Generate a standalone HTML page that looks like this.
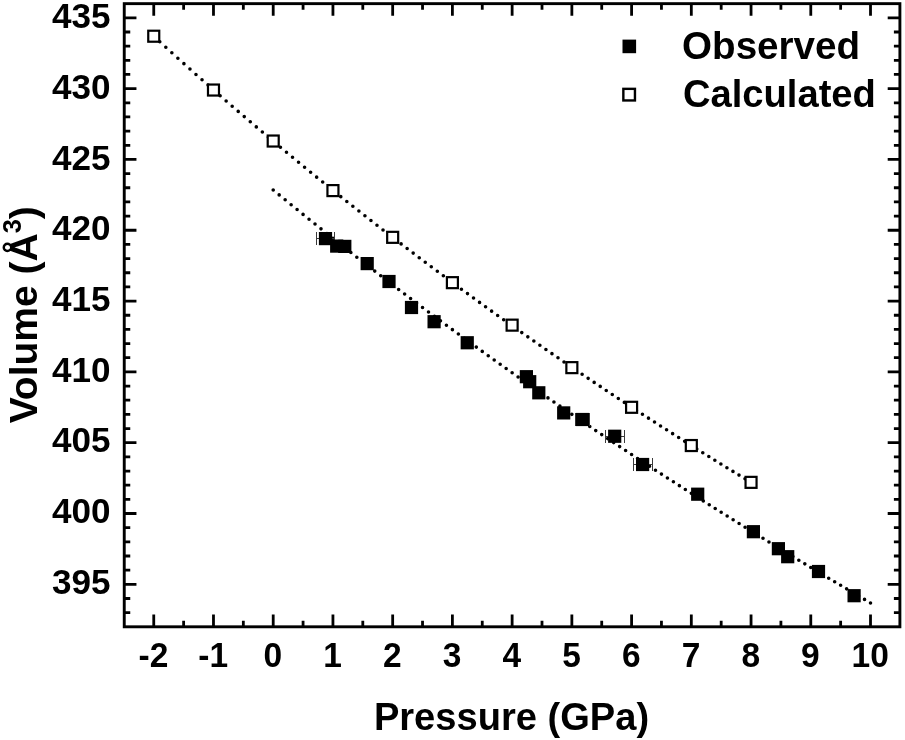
<!DOCTYPE html>
<html lang="en"><head><meta charset="utf-8"><title>Volume vs Pressure</title>
<style>
html,body{margin:0;padding:0;background:#fff;}
body{width:905px;height:740px;overflow:hidden;}
svg{display:block;}
text{font-family:"Liberation Sans",Arial,Helvetica,sans-serif;font-weight:bold;fill:#000;}
.tk{font-size:35.1px;}
.tt{font-size:38.4px;}
</style></head><body>
<svg width="905" height="740" viewBox="0 0 905 740">
<rect width="905" height="740" fill="#fff"/>

<g stroke="#000" stroke-width="2.9" fill="none" stroke-linecap="butt">
<rect x="124.25" y="3.65" width="775.65" height="623.15"/>
<path d="M153.75,626.8 v-12.2 M153.75,3.65 v12.2 M183.62,626.8 v-6.0 M183.62,3.65 v6.0 M213.48,626.8 v-12.2 M213.48,3.65 v12.2 M243.34,626.8 v-6.0 M243.34,3.65 v6.0 M273.21,626.8 v-12.2 M273.21,3.65 v12.2 M303.07,626.8 v-6.0 M303.07,3.65 v6.0 M332.94,626.8 v-12.2 M332.94,3.65 v12.2 M362.80,626.8 v-6.0 M362.80,3.65 v6.0 M392.67,626.8 v-12.2 M392.67,3.65 v12.2 M422.53,626.8 v-6.0 M422.53,3.65 v6.0 M452.40,626.8 v-12.2 M452.40,3.65 v12.2 M482.26,626.8 v-6.0 M482.26,3.65 v6.0 M512.13,626.8 v-12.2 M512.13,3.65 v12.2 M542.00,626.8 v-6.0 M542.00,3.65 v6.0 M571.86,626.8 v-12.2 M571.86,3.65 v12.2 M601.72,626.8 v-6.0 M601.72,3.65 v6.0 M631.59,626.8 v-12.2 M631.59,3.65 v12.2 M661.45,626.8 v-6.0 M661.45,3.65 v6.0 M691.32,626.8 v-12.2 M691.32,3.65 v12.2 M721.18,626.8 v-6.0 M721.18,3.65 v6.0 M751.05,626.8 v-12.2 M751.05,3.65 v12.2 M780.91,626.8 v-6.0 M780.91,3.65 v6.0 M810.78,626.8 v-12.2 M810.78,3.65 v12.2 M840.64,626.8 v-6.0 M840.64,3.65 v6.0 M870.51,626.8 v-12.2 M870.51,3.65 v12.2 M124.25,612.66 h6.0 M899.9,612.66 h-6.0 M124.25,598.50 h6.0 M899.9,598.50 h-6.0 M124.25,584.33 h12.2 M899.9,584.33 h-12.2 M124.25,570.17 h6.0 M899.9,570.17 h-6.0 M124.25,556.01 h6.0 M899.9,556.01 h-6.0 M124.25,541.84 h6.0 M899.9,541.84 h-6.0 M124.25,527.68 h6.0 M899.9,527.68 h-6.0 M124.25,513.52 h12.2 M899.9,513.52 h-12.2 M124.25,499.35 h6.0 M899.9,499.35 h-6.0 M124.25,485.19 h6.0 M899.9,485.19 h-6.0 M124.25,471.03 h6.0 M899.9,471.03 h-6.0 M124.25,456.87 h6.0 M899.9,456.87 h-6.0 M124.25,442.70 h12.2 M899.9,442.70 h-12.2 M124.25,428.54 h6.0 M899.9,428.54 h-6.0 M124.25,414.38 h6.0 M899.9,414.38 h-6.0 M124.25,400.21 h6.0 M899.9,400.21 h-6.0 M124.25,386.05 h6.0 M899.9,386.05 h-6.0 M124.25,371.89 h12.2 M899.9,371.89 h-12.2 M124.25,357.72 h6.0 M899.9,357.72 h-6.0 M124.25,343.56 h6.0 M899.9,343.56 h-6.0 M124.25,329.40 h6.0 M899.9,329.40 h-6.0 M124.25,315.24 h6.0 M899.9,315.24 h-6.0 M124.25,301.07 h12.2 M899.9,301.07 h-12.2 M124.25,286.91 h6.0 M899.9,286.91 h-6.0 M124.25,272.75 h6.0 M899.9,272.75 h-6.0 M124.25,258.58 h6.0 M899.9,258.58 h-6.0 M124.25,244.42 h6.0 M899.9,244.42 h-6.0 M124.25,230.26 h12.2 M899.9,230.26 h-12.2 M124.25,216.09 h6.0 M899.9,216.09 h-6.0 M124.25,201.93 h6.0 M899.9,201.93 h-6.0 M124.25,187.77 h6.0 M899.9,187.77 h-6.0 M124.25,173.61 h6.0 M899.9,173.61 h-6.0 M124.25,159.44 h12.2 M899.9,159.44 h-12.2 M124.25,145.28 h6.0 M899.9,145.28 h-6.0 M124.25,131.12 h6.0 M899.9,131.12 h-6.0 M124.25,116.95 h6.0 M899.9,116.95 h-6.0 M124.25,102.79 h6.0 M899.9,102.79 h-6.0 M124.25,88.63 h12.2 M899.9,88.63 h-12.2 M124.25,74.47 h6.0 M899.9,74.47 h-6.0 M124.25,60.30 h6.0 M899.9,60.30 h-6.0 M124.25,46.14 h6.0 M899.9,46.14 h-6.0 M124.25,31.98 h6.0 M899.9,31.98 h-6.0 M124.25,17.81 h12.2 M899.9,17.81 h-12.2" stroke-width="2.8"/>
</g>
<text class="tk" x="110.6" y="593.8" text-anchor="end">395</text>
<text class="tk" x="110.6" y="523.1" text-anchor="end">400</text>
<text class="tk" x="110.6" y="452.4" text-anchor="end">405</text>
<text class="tk" x="110.6" y="381.7" text-anchor="end">410</text>
<text class="tk" x="110.6" y="311.0" text-anchor="end">415</text>
<text class="tk" x="110.6" y="240.3" text-anchor="end">420</text>
<text class="tk" x="110.6" y="169.5" text-anchor="end">425</text>
<text class="tk" x="110.6" y="98.8" text-anchor="end">430</text>
<text class="tk" x="110.6" y="28.1" text-anchor="end">435</text>
<text class="tk" transform="translate(153.40,667.4) scale(0.955,1)" text-anchor="middle">-2</text>
<text class="tk" transform="translate(213.13,667.4) scale(0.955,1)" text-anchor="middle">-1</text>
<text class="tk" transform="translate(272.86,667.4) scale(0.955,1)" text-anchor="middle">0</text>
<text class="tk" transform="translate(332.59,667.4) scale(0.955,1)" text-anchor="middle">1</text>
<text class="tk" transform="translate(392.32,667.4) scale(0.955,1)" text-anchor="middle">2</text>
<text class="tk" transform="translate(452.05,667.4) scale(0.955,1)" text-anchor="middle">3</text>
<text class="tk" transform="translate(511.78,667.4) scale(0.955,1)" text-anchor="middle">4</text>
<text class="tk" transform="translate(571.51,667.4) scale(0.955,1)" text-anchor="middle">5</text>
<text class="tk" transform="translate(631.24,667.4) scale(0.955,1)" text-anchor="middle">6</text>
<text class="tk" transform="translate(690.97,667.4) scale(0.955,1)" text-anchor="middle">7</text>
<text class="tk" transform="translate(750.70,667.4) scale(0.955,1)" text-anchor="middle">8</text>
<text class="tk" transform="translate(810.43,667.4) scale(0.955,1)" text-anchor="middle">9</text>
<text class="tk" transform="translate(870.16,667.4) scale(0.955,1)" text-anchor="middle">10</text>
<text class="tt" style="font-size:38.1px" transform="translate(511.5,729.7) scale(1,1.035)" text-anchor="middle">Pressure (GPa)</text>
<text class="tt" transform="translate(36.9,423.3) rotate(-90) scale(1.016,1)">Volume (Å<tspan font-size="25px" dy="-15.8">3</tspan><tspan dy="15.8">)</tspan></text>
<g fill="none" stroke="#000" stroke-width="3.6" stroke-linecap="round">
<path d="M153.75,36.30h0 M159.78,41.82h0 M165.82,47.32h0 M171.85,52.79h0 M177.88,58.24h0 M183.92,63.66h0 M189.95,69.06h0 M195.98,74.44h0 M202.02,79.79h0 M208.05,85.12h0 M214.08,90.43h0 M220.12,95.71h0 M226.15,100.97h0 M232.18,106.20h0 M238.22,111.42h0 M244.25,116.61h0 M250.28,121.77h0 M256.32,126.92h0 M262.35,132.04h0 M268.38,137.14h0 M274.42,142.22h0 M280.45,147.28h0 M286.48,152.31h0 M292.52,157.32h0 M298.55,162.31h0 M304.58,167.28h0 M310.62,172.23h0 M316.65,177.15h0 M322.68,182.05h0 M328.72,186.94h0 M334.75,191.80h0 M340.78,196.64h0 M346.82,201.46h0 M352.85,206.26h0 M358.88,211.03h0 M364.92,215.79h0 M370.95,220.53h0 M376.98,225.24h0 M383.02,229.94h0 M389.05,234.62h0 M395.08,239.27h0 M401.12,243.91h0 M407.15,248.52h0 M413.18,253.12h0 M419.22,257.70h0 M425.25,262.25h0 M431.28,266.79h0 M437.32,271.31h0 M443.35,275.81h0 M449.38,280.29h0 M455.42,284.75h0 M461.45,289.19h0 M467.48,293.62h0 M473.52,298.02h0 M479.55,302.41h0 M485.58,306.78h0 M491.62,311.13h0 M497.65,315.46h0 M503.68,319.77h0 M509.72,324.07h0 M515.75,328.35h0 M521.78,332.61h0 M527.82,336.85h0 M533.85,341.07h0 M539.88,345.28h0 M545.92,349.47h0 M551.95,353.64h0 M557.98,357.80h0 M564.02,361.94h0 M570.05,366.06h0 M576.08,370.17h0 M582.12,374.25h0 M588.15,378.33h0 M594.18,382.38h0 M600.22,386.42h0 M606.25,390.45h0 M612.28,394.45h0 M618.32,398.44h0 M624.35,402.42h0 M630.38,406.38h0 M636.42,410.32h0 M642.45,414.25h0 M648.48,418.17h0 M654.52,422.06h0 M660.55,425.95h0 M666.58,429.81h0 M672.62,433.67h0 M678.65,437.50h0 M684.68,441.33h0 M690.72,445.14h0 M696.75,448.93h0 M702.78,452.71h0 M708.82,456.47h0 M714.85,460.23h0 M720.88,463.96h0 M726.92,467.68h0 M732.95,471.39h0 M738.98,475.09h0 M745.02,478.77h0 M751.05,482.44h0"/>
<path d="M273.21,189.97h0 M279.18,194.90h0 M285.16,199.80h0 M291.13,204.69h0 M297.10,209.55h0 M303.07,214.40h0 M309.05,219.23h0 M315.02,224.04h0 M320.99,228.83h0 M326.97,233.60h0 M332.94,238.36h0 M338.91,243.09h0 M344.89,247.81h0 M350.86,252.50h0 M356.83,257.18h0 M362.80,261.84h0 M368.78,266.49h0 M374.75,271.11h0 M380.72,275.72h0 M386.70,280.31h0 M392.67,284.88h0 M398.64,289.43h0 M404.62,293.97h0 M410.59,298.49h0 M416.56,302.99h0 M422.53,307.48h0 M428.51,311.94h0 M434.48,316.39h0 M440.45,320.83h0 M446.43,325.25h0 M452.40,329.65h0 M458.37,334.03h0 M464.35,338.40h0 M470.32,342.75h0 M476.29,347.09h0 M482.26,351.41h0 M488.24,355.71h0 M494.21,360.00h0 M500.18,364.27h0 M506.16,368.53h0 M512.13,372.77h0 M518.10,377.00h0 M524.08,381.21h0 M530.05,385.40h0 M536.02,389.58h0 M542.00,393.75h0 M547.97,397.90h0 M553.94,402.03h0 M559.91,406.15h0 M565.89,410.26h0 M571.86,414.35h0 M577.83,418.43h0 M583.81,422.49h0 M589.78,426.54h0 M595.75,430.58h0 M601.72,434.60h0 M607.70,438.61h0 M613.67,442.60h0 M619.64,446.58h0 M625.62,450.55h0 M631.59,454.50h0 M637.56,458.44h0 M643.54,462.37h0 M649.51,466.29h0 M655.48,470.19h0 M661.45,474.08h0 M667.43,477.95h0 M673.40,481.81h0 M679.37,485.67h0 M685.35,489.50h0 M691.32,493.33h0 M697.29,497.14h0 M703.27,500.95h0 M709.24,504.74h0 M715.21,508.51h0 M721.18,512.28h0 M727.16,516.03h0 M733.13,519.78h0 M739.10,523.51h0 M745.08,527.23h0 M751.05,530.94h0 M757.02,534.64h0 M763.00,538.32h0 M768.97,542.00h0 M774.94,545.66h0 M780.91,549.32h0 M786.89,552.96h0 M792.86,556.60h0 M798.83,560.22h0 M804.81,563.83h0 M810.78,567.44h0 M816.75,571.03h0 M822.73,574.61h0 M828.70,578.19h0 M834.67,581.75h0 M840.64,585.30h0 M846.62,588.85h0 M852.59,592.38h0 M858.56,595.91h0 M864.54,599.42h0 M870.51,602.93h0"/>
</g>
<g stroke="#3a3a3a" stroke-width="1" fill="none">
<path d="M316.5,238.5 H334.5 M316.5,232.0 v13 M334.5,232.0 v13"/>
<path d="M575.5,419.5 H589.5 M575.5,413.0 v13 M589.5,413.0 v13"/>
<path d="M605.5,436.5 H624.5 M605.5,430.0 v13 M624.5,430.0 v13"/>
<path d="M633.5,464.5 H652.5 M633.5,458.0 v13 M652.5,458.0 v13"/>
</g>
<g fill="#000">
<rect x="318.90" y="232.00" width="13.2" height="13.2"/>
<rect x="330.10" y="239.50" width="13.2" height="13.2"/>
<rect x="338.20" y="239.80" width="13.2" height="13.2"/>
<rect x="360.60" y="257.00" width="13.2" height="13.2"/>
<rect x="382.40" y="274.90" width="13.2" height="13.2"/>
<rect x="404.90" y="300.90" width="13.2" height="13.2"/>
<rect x="427.50" y="315.10" width="13.2" height="13.2"/>
<rect x="460.65" y="336.15" width="13.2" height="13.2"/>
<rect x="519.80" y="370.10" width="13.2" height="13.2"/>
<rect x="523.10" y="375.10" width="13.2" height="13.2"/>
<rect x="532.20" y="386.20" width="13.2" height="13.2"/>
<rect x="557.10" y="406.30" width="13.2" height="13.2"/>
<rect x="575.80" y="412.90" width="13.2" height="13.2"/>
<rect x="608.10" y="429.65" width="13.2" height="13.2"/>
<rect x="636.00" y="457.90" width="13.2" height="13.2"/>
<rect x="691.10" y="487.60" width="13.2" height="13.2"/>
<rect x="746.80" y="525.10" width="13.2" height="13.2"/>
<rect x="771.80" y="542.10" width="13.2" height="13.2"/>
<rect x="781.10" y="550.10" width="13.2" height="13.2"/>
<rect x="811.90" y="564.90" width="13.2" height="13.2"/>
<rect x="847.50" y="589.10" width="13.2" height="13.2"/>
<rect x="622.50" y="39.60" width="13.6" height="13.6"/>
</g>
<g fill="#fff" stroke="#000" stroke-width="2.2">
<rect x="148.25" y="30.72" width="11" height="11"/>
<rect x="207.98" y="84.54" width="11" height="11"/>
<rect x="267.71" y="135.53" width="11" height="11"/>
<rect x="327.44" y="185.10" width="11" height="11"/>
<rect x="387.17" y="231.84" width="11" height="11"/>
<rect x="446.90" y="277.16" width="11" height="11"/>
<rect x="506.63" y="319.65" width="11" height="11"/>
<rect x="566.36" y="362.14" width="11" height="11"/>
<rect x="626.09" y="401.80" width="11" height="11"/>
<rect x="685.82" y="440.04" width="11" height="11"/>
<rect x="745.55" y="476.86" width="11" height="11"/>
<rect x="623.35" y="88.85" width="11.6" height="11.6" stroke-width="2.4"/>
</g>
<text class="tt" style="font-size:38.6px" x="682.1" y="59.1">Observed</text>
<text class="tt" style="font-size:38.15px" x="683.0" y="107.3">Calculated</text>
</svg></body></html>
